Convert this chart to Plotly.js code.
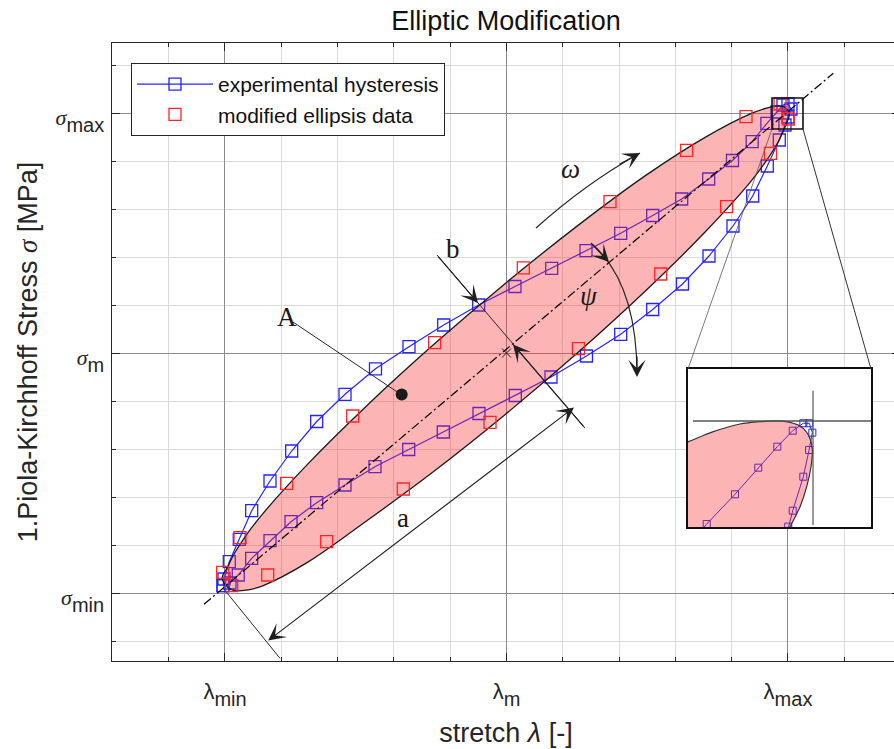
<!DOCTYPE html>
<html><head><meta charset="utf-8">
<script src="https://cdn.plot.ly/plotly-3.0.1.min.js"></script>
<style>html,body{margin:0;padding:0;overflow:hidden;background:#fff}</style>
</head><body>
<div id="chart" style="width:900px;height:749px"></div>
<script>
// ---- data (normalised: lambda_min=-1, lambda_m=0, lambda_max=1 ; sigma_min=-1, sigma_m=0, sigma_max=1)
const xTickVals = [-1, 0, 1];
const xTickNames = ['min', 'm', 'max'];
const yTickVals = [-1, 0, 1];
const yTickNames = ['min', 'm', 'max'];

const expX = [-1.0071, -1.0036, -0.9847, -0.9492, -0.9052, -0.8401, -0.7631, -0.6743, -0.5737, -0.4654, -0.3464, -0.2231, -0.0988, 0.0302, 0.1606, 0.2824, 0.4057, 0.5194, 0.6224, 0.7183, 0.8028, 0.8728, 0.9250, 0.9609, 0.9822, 1.0, 1.0107, 1.0, 0.9893, 0.9691, 0.9265, 0.8746, 0.8046, 0.7194, 0.6252, 0.5194, 0.4057, 0.2842, 0.1581, 0.0313, -0.0977, -0.2245, -0.3474, -0.4671, -0.5737, -0.6743, -0.7655, -0.8401, -0.9052, -0.9528, -0.9822, -1.0071];
const expY = [-0.9696, -0.9417, -0.8696, -0.7763, -0.6571, -0.5333, -0.4083, -0.2854, -0.1721, -0.0658, 0.0263, 0.1167, 0.2, 0.2771, 0.3529, 0.4263, 0.4988, 0.5729, 0.6417, 0.725, 0.8021, 0.8804, 0.9571, 1.0042, 1.0333, 1.0375, 1.0167, 0.9833, 0.95, 0.8875, 0.7792, 0.6542, 0.5292, 0.4042, 0.2875, 0.1813, 0.0779, -0.0125, -0.1, -0.1771, -0.2521, -0.3292, -0.4021, -0.4738, -0.55, -0.6238, -0.7029, -0.7821, -0.8554, -0.925, -0.9583, -0.9696];

const modX = [-1.0082, -0.9467, -0.7808, -0.5464, -0.2551, 0.0597, 0.3677, 0.6401, 0.8508, 0.9716, 1.0011, 0.9378, 0.7822, 0.5478, 0.2558, -0.0586, -0.3666, -0.6387, -0.8483, -0.9762];
const modY = [-0.9138, -0.7696, -0.5429, -0.2625, 0.0429, 0.355, 0.6304, 0.8446, 0.9846, 1.0375, 0.975, 0.8321, 0.6096, 0.3292, 0.0179, -0.2888, -0.5667, -0.7863, -0.925, -0.9696];

const ellX = [0, 0.2588, 0.5, 0.7071, 0.8660, 0.9239, 0.9659, 0.9914, 1.005, 0.9962, 0.9848, 0.9659, 0.9239, 0.8660, 0.7071, 0.5, 0.2588, 0, -0.2588, -0.5, -0.7071, -0.8660, -0.9239, -0.9659, -0.9914, -1.01, -0.9914, -0.9659, -0.9239, -0.8660, -0.7071, -0.5, -0.2588, 0];
const ellY = [-0.2521, 0.0070, 0.2656, 0.5060, 0.7120, 0.8025, 0.8815, 0.9465, 0.9977, 1.016, 1.0268, 1.0299, 1.0205, 0.9961, 0.8995, 0.7442, 0.5360, 0.2941, 0.0350, -0.2236, -0.4640, -0.6700, -0.7575, -0.8335, -0.8935, -0.9377, -0.975, -0.990, -0.988, -0.970, -0.8725, -0.7022, -0.4940, -0.2521];

// inset (magnified tip near lambda_max / sigma_max)
const insetEllX = [0.83, 0.8893, 0.9115, 0.9352, 0.9529, 0.9678, 0.9825, 0.9914, 0.9973, 0.9994, 0.9982, 0.9944, 0.9885, 0.9796, 0.965, 0.83, 0.83];
const insetEllY = [0.951, 0.9785, 0.9889, 0.9969, 0.9993, 1.0001, 0.9977, 0.9924, 0.9820, 0.9698, 0.9524, 0.9316, 0.9108, 0.8899, 0.860, 0.80, 0.951];
const insetExpX = [0.8819, 0.9056, 0.9307, 0.9514, 0.9683, 0.9820, 0.9914, 0.9967, 0.9994, 0.9965, 0.9914, 0.9820, 0.9780, 0.9707];
const insetExpY = [0.8604, 0.8927, 0.9237, 0.9514, 0.9733, 0.9899, 0.9977, 0.9977, 0.9879, 0.9698, 0.9420, 0.9066, 0.8900, 0.8552];

// ---- helpers (pixel position of decorations -> axis units)
const P = (px, py) => [(px - 506.5) / 281.5, (353 - py) / 240];
const SANS = 'Liberation Sans, Arial, sans-serif';
const SERIF = 'Liberation Serif, DejaVu Serif, serif';
const INK = '#262626';

const xTickText = xTickNames.map(s => '<span style="font-size:22px">λ</span><sub><span style="font-size:20px">' + s + '</span></sub>');
const yTickText = yTickNames.map(s => '<span style="font-size:22px;font-family:Liberation Serif"><i>σ</i></span><sub><span style="font-size:20px">' + s + '</span></sub>');

const traces = [
  {x: expX, y: expY, type: 'scatter', mode: 'lines+markers', name: 'experimental hysteresis',
   line: {color: '#2424ff', width: 1.2},
   marker: {symbol: 'square-open', size: 12, color: '#2424ff', line: {width: 1.3, color: '#2424ff'}}},
  {x: ellX, y: ellY, type: 'scatter', mode: 'lines', fill: 'toself', fillcolor: 'rgba(245,40,40,0.35)',
   line: {color: '#1a1a1a', width: 1.3, shape: 'spline', smoothing: 1}, showlegend: false, hoverinfo: 'skip'},
  {x: modX, y: modY, type: 'scatter', mode: 'markers', name: 'modified ellipsis data',
   marker: {symbol: 'square-open', size: 12, color: '#ff2424', line: {width: 1.3, color: '#ff2424'}}},
  {x: [0], y: [0], type: 'scatter', mode: 'markers', showlegend: false,
   marker: {symbol: 'x-thin-open', size: 9, color: '#1a1a1a', line: {width: 1, color: '#1a1a1a'}}},
  {x: [P(401.7, 394.5)[0]], y: [P(401.7, 394.5)[1]], type: 'scatter', mode: 'markers', showlegend: false,
   marker: {symbol: 'circle', size: 12, color: '#1a1a1a'}},
  // inset
  {x: insetExpX, y: insetExpY, xaxis: 'x2', yaxis: 'y2', type: 'scatter', mode: 'lines+markers', showlegend: false,
   line: {color: '#2424ff', width: 1},
   marker: {symbol: 'square-open', size: 7, color: '#2424ff', line: {width: 1, color: '#2424ff'}}},
  {x: insetEllX, y: insetEllY, xaxis: 'x2', yaxis: 'y2', type: 'scatter', mode: 'lines', fill: 'toself',
   fillcolor: 'rgba(245,40,40,0.35)', line: {color: '#333', width: 1.2, shape: 'spline', smoothing: 0.8},
   showlegend: false, hoverinfo: 'skip'}
];

function seg(a, b, extra) {
  return Object.assign({type: 'line', xref: 'x', yref: 'y', x0: a[0], y0: a[1], x1: b[0], y1: b[1],
    line: {color: INK, width: 1}}, extra || {});
}
function pth(d) { return d.map(v => typeof v === 'string' ? v : v[0].toFixed(4) + ',' + v[1].toFixed(4)).join(' '); }

const shapes = [
  seg(P(204, 604.3), P(833.3, 73.3), {line: {color: '#000', width: 1.2, dash: '9px,3px,2px,3px'}}),
  seg(P(437, 255), P(585, 428)),
  seg(P(293, 322), P(401, 394.5)),
  seg(P(223.3, 588.3), P(280, 658.3)),
  {type: 'path', xref: 'x', yref: 'y', path: pth(['M', P(536, 228), 'Q', P(585, 184), P(640, 153)]), line: {color: INK, width: 1.2}},
  {type: 'path', xref: 'x', yref: 'y', path: pth(['M', P(591, 243), 'C', P(620, 268), P(637, 310), P(637, 375)]), line: {color: INK, width: 1.2}},
  {type: 'rect', xref: 'x', yref: 'y', x0: P(772, 98)[0], y0: P(772, 98)[1], x1: P(803, 129)[0], y1: P(803, 129)[1], line: {color: '#111', width: 1.6}},
  seg(P(688, 369), P(772, 129), {line: {color: '#555', width: 0.8}}),
  seg(P(871, 369), P(803, 129), {line: {color: '#333', width: 1}}),
  {type: 'line', xref: 'x2', yref: 'y2', x0: 0.8934, y0: 1, x1: 1.06, y1: 1, line: {color: '#555', width: 1.5}},
  {type: 'line', xref: 'x2', yref: 'y2', x0: 1, y0: 0.8917, x1: 1, y1: 1.0316, line: {color: '#555', width: 1.2}}
];

function head(tip, ax, ay, extra) {
  return Object.assign({x: tip[0], y: tip[1], xref: 'x', yref: 'y', text: '', showarrow: true, ax: ax, ay: ay,
    arrowhead: 3, arrowsize: 2.5, arrowwidth: 1.15, arrowcolor: '#1f1f1f', standoff: 0, startstandoff: 0}, extra || {});
}
function label(pos, txt, italic) {
  return {x: pos[0], y: pos[1], xref: 'x', yref: 'y', text: italic ? '<i>' + txt + '</i>' : txt, showarrow: false,
    font: {family: SERIF, size: 27, color: '#1a1a1a'}, xanchor: 'center', yanchor: 'middle'};
}

const annotations = [
  head(P(478, 303), -41, -48),
  head(P(513, 344.5), 72, 83.5),
  head(P(574, 407.4), -307.3, 234.3, {arrowside: 'end+start'}),
  head(P(640, 153), -22, 12),
  head(P(609, 262), -18, -19),
  head(P(637, 377), 0, -22),
  label(P(287, 317), 'A'),
  label(P(453, 249), 'b'),
  label(P(403, 518), 'a'),
  label(P(571, 169), 'ω', true),
  label(P(589, 296), 'ψ', true)
];

const axisCommon = {
  ticks: 'inside', ticklen: 8, tickwidth: 1, tickcolor: INK,
  showline: true, linecolor: INK, linewidth: 1, mirror: 'ticks',
  showgrid: true, gridcolor: '#8c8c8c', gridwidth: 1, zeroline: false,
  tickfont: {family: SANS, size: 34, color: INK},
  minor: {tick0: 0, dtick: 0.2, ticks: 'inside', ticklen: 4, tickcolor: INK, showgrid: true, gridcolor: '#d9d9d9', gridwidth: 1}
};

const layout = {
  width: 900, height: 749,
  margin: {l: 112, r: 0, t: 43, b: 88},
  paper_bgcolor: '#fff', plot_bgcolor: '#fff',
  font: {family: SANS, color: INK},
  title: {text: 'Elliptic Modification', font: {family: SANS, size: 27, color: '#111'}, x: 0.5, xref: 'paper', xanchor: 'center', y: 0.973, yref: 'container', yanchor: 'middle'},
  xaxis: Object.assign({}, axisCommon, {
    range: [-1.4014, 1.3979], tickmode: 'array', tickvals: xTickVals, ticktext: xTickText, ticklabelstandoff: -4,
    title: {text: 'stretch <i>λ</i> [-]', font: {family: SANS, size: 27, color: INK}, standoff: 14}
  }),
  yaxis: Object.assign({}, axisCommon, {
    range: [-1.2833, 1.2917], tickmode: 'array', tickvals: yTickVals, ticktext: yTickText,
    title: {text: '1.Piola-Kirchhoff Stress <span style="font-family:Liberation Serif"><i>σ</i></span> [MPa]', font: {family: SANS, size: 27, color: INK}, standoff: 10}
  }),
  xaxis2: {domain: [0.731, 0.9632], range: [0.889, 1.0515], anchor: 'y2', showgrid: false, zeroline: false,
    showticklabels: false, ticks: '', showline: true, mirror: true, linecolor: '#111', linewidth: 2},
  yaxis2: {domain: [0.2168, 0.4725], range: [0.8896, 1.0542], anchor: 'x2', showgrid: false, zeroline: false,
    showticklabels: false, ticks: '', showline: true, mirror: true, linecolor: '#111', linewidth: 2},
  legend: {x: 0.0241, y: 0.9676, xanchor: 'left', yanchor: 'top', bgcolor: '#fff', bordercolor: INK, borderwidth: 1,
    font: {family: SANS, size: 21, color: '#111'}, itemwidth: 76},
  shapes: shapes,
  annotations: annotations,
  showlegend: true
};

Plotly.newPlot('chart', traces, layout, {displayModeBar: false, staticPlot: true});
</script>
</body></html>
